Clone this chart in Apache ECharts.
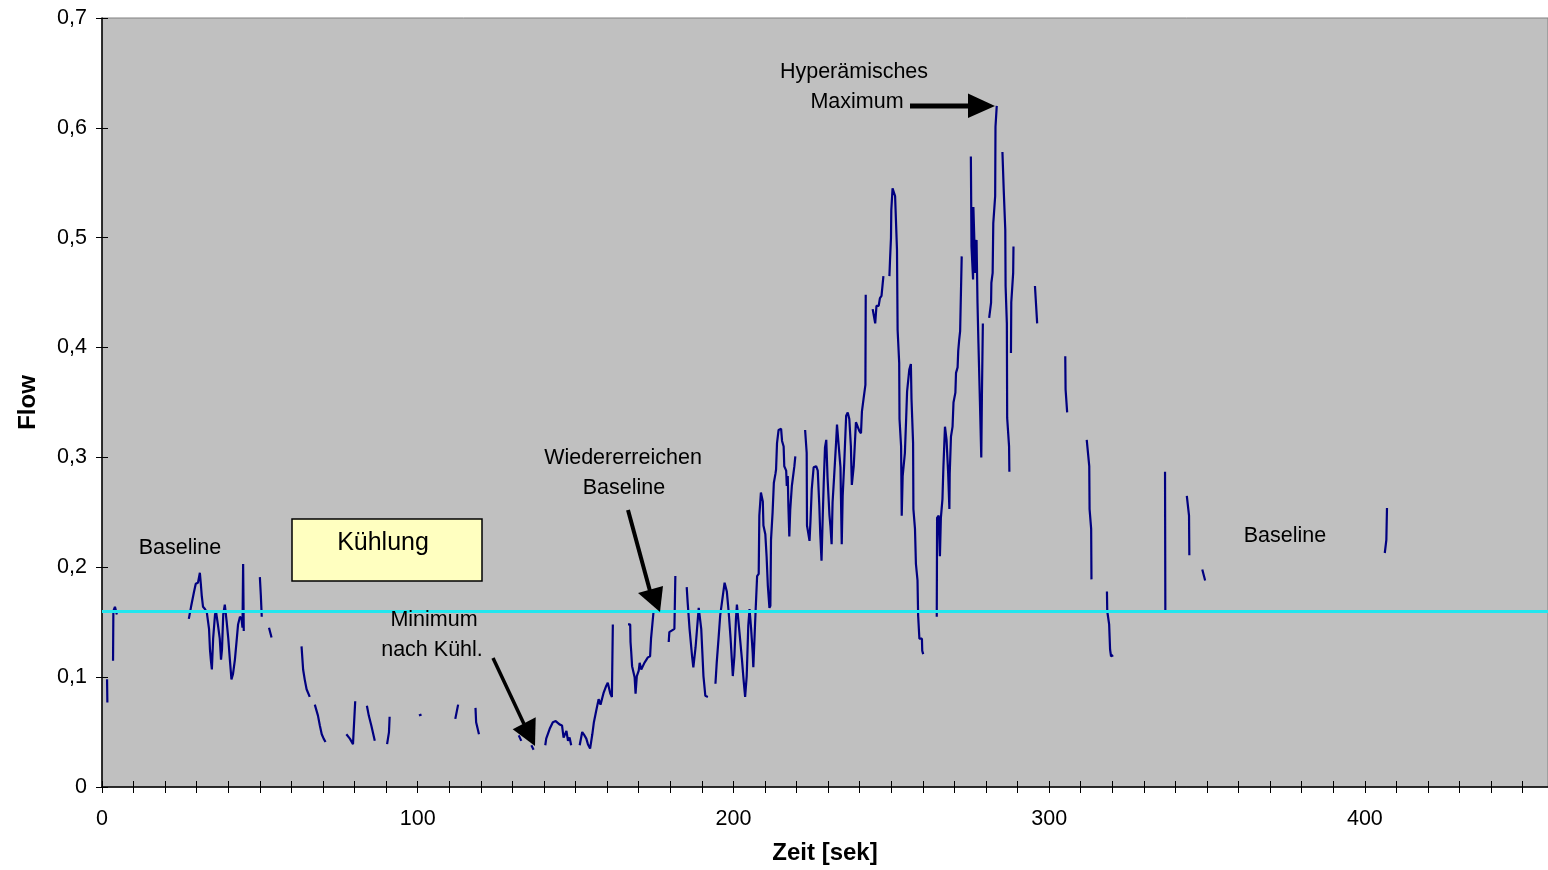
<!DOCTYPE html>
<html><head><meta charset="utf-8">
<script src="https://cdn.jsdelivr.net/npm/echarts@6/dist/echarts.min.js"></script>
<style>html,body{margin:0;padding:0;background:#fff}#c{width:1548px;height:870px}</style>
</head><body><div id="c"></div>
<script>
// Zeit [sek] and Flow readings; null marks a gap in the recording
const timeSec = [
 1.6,1.7,null,
 3.5,3.6,4.1,4.7,null,
 27.5,28.2,29.1,29.7,30.4,31.0,31.3,31.6,32.0,32.6,33.2,33.9,34.2,34.5,34.8,35.2,35.8,36.1,36.7,37.3,37.7,38.0,38.4,38.9,39.5,40.0,40.5,41.0,41.5,42.1,42.7,43.1,43.7,44.2,44.5,44.7,44.9,null,
 50.0,50.3,50.6,null,
 52.9,53.7,null,
 63.2,63.7,64.2,64.8,65.8,null,
 67.4,68.4,69.0,69.6,70.2,70.8,null,
 77.4,78.5,79.5,80.2,null,
 83.9,84.5,85.3,86.4,null,
 90.3,90.9,91.1,null,
 100.4,101.2,null,
 111.9,112.8,null,
 118.3,118.5,119.4,null,
 132.0,132.8,null,
 136.0,136.7,null,
 140.4,140.7,141.8,142.8,143.7,144.9,145.7,146.2,147.1,147.6,148.1,148.6,null,
 151.3,152.1,152.6,153.4,153.9,154.6,155.3,155.8,156.5,157.3,157.9,158.9,159.7,160.2,161.0,161.5,161.8,null,
 166.6,167.3,167.4,167.6,167.9,168.7,169.0,169.4,170.0,170.3,170.8,171.8,172.9,173.6,173.9,174.5,174.7,null,
 179.5,179.7,180.3,181.3,181.6,null,
 185.2,185.5,186.1,186.9,187.3,188.0,189.0,189.8,190.5,191.1,191.9,null,
 194.3,194.7,195.3,195.8,196.4,197.2,197.9,198.5,199.1,199.8,200.3,200.8,201.1,201.9,202.7,203.2,203.7,204.2,204.7,205.1,205.6,206.1,206.3,207.0,207.5,208.0,208.2,208.7,209.3,209.5,210.1,210.5,210.9,211.4,211.7,211.9,212.4,212.8,213.3,213.5,213.8,214.3,215.1,215.4,215.9,216.1,216.7,216.9,217.2,217.4,217.7,218.0,218.5,219.0,219.3,219.6,null,
 222.7,223.2,223.3,224.1,224.4,224.8,225.4,226.2,226.7,227.2,227.5,227.9,228.3,228.6,229.0,229.4,229.8,230.4,230.7,231.1,231.4,231.9,232.5,232.8,233.3,233.9,234.3,234.6,235.1,235.7,236.2,236.7,237.2,237.5,238.1,238.8,239.9,240.4,240.7,241.2,241.8,241.9,null,
 244.1,244.9,245.3,246.0,246.4,246.9,247.5,null,
 249.4,249.6,249.9,250.0,250.4,251.2,251.8,252.0,252.5,252.6,253.1,253.3,253.6,254.3,254.7,255.0,255.7,256.2,256.4,256.9,257.0,257.5,257.8,258.3,258.5,258.9,259.7,259.8,260.1,null,
 264.4,264.5,265.0,265.4,265.7,266.2,266.5,267.0,267.5,268.0,268.4,268.5,268.9,269.4,269.7,270.3,270.5,271.0,271.2,271.5,271.8,272.2,272.3,null,
 275.2,275.4,275.9,276.0,276.6,277.0,277.3,277.6,278.1,278.5,278.7,279.0,null,
 281.0,281.6,281.7,282.1,282.3,282.9,283.0,283.4,null,
 285.2,285.6,286.1,286.2,286.6,286.7,287.3,287.4,null,
 287.9,288.0,288.6,288.7,null,
 295.5,296.2,null,
 305.1,305.2,305.7,null,
 311.9,312.7,312.8,313.3,313.4,null,
 318.3,318.4,319.0,319.3,319.6,320.3,null,
 336.7,336.8,null,
 343.6,344.3,344.4,null,
 348.5,349.4,null,
 406.3,406.8,407.0
];
const flow = [
 0.098,0.077,null,
 0.115,0.160,0.164,0.157,null,
 0.153,0.164,0.177,0.185,0.186,0.195,0.185,0.174,0.164,0.162,0.159,0.144,0.125,0.115,0.107,0.135,0.157,0.160,0.148,0.135,0.116,0.125,0.157,0.166,0.150,0.135,0.116,0.098,0.103,0.116,0.135,0.148,0.155,0.153,0.145,0.203,0.142,null,
 0.191,0.175,0.155,null,
 0.145,0.136,null,
 0.128,0.107,0.098,0.089,0.082,null,
 0.075,0.065,0.056,0.048,0.044,0.041,null,
 0.048,0.044,0.039,0.078,null,
 0.074,0.065,0.056,0.042,null,
 0.039,0.050,0.064,null,
 0.065,0.066,null,
 0.062,0.075,null,
 0.072,0.059,0.048,null,
 0.047,0.042,null,
 0.038,0.034,null,
 0.038,0.044,0.053,0.059,0.060,0.057,0.056,0.045,0.051,0.042,0.045,0.038,null,
 0.038,0.050,0.048,0.044,0.039,0.035,0.048,0.059,0.069,0.080,0.075,0.086,0.092,0.095,0.085,0.082,0.148,null,
 0.148,0.148,0.132,0.124,0.110,0.100,0.085,0.101,0.106,0.113,0.107,0.113,0.118,0.119,0.135,0.136,0.160,null,
 0.132,0.141,0.142,0.144,0.192,null,
 0.182,0.168,0.144,0.119,0.109,0.127,0.163,0.144,0.101,0.083,0.082,null,
 0.094,0.113,0.136,0.156,0.169,0.186,0.178,0.159,0.135,0.101,0.119,0.153,0.166,0.141,0.116,0.098,0.082,0.101,0.147,0.162,0.144,0.122,0.109,0.159,0.192,0.194,0.247,0.268,0.260,0.238,0.230,0.210,0.183,0.163,0.165,0.225,0.250,0.277,0.285,0.289,0.313,0.325,0.326,0.315,0.310,0.292,0.288,0.274,0.283,0.256,0.228,0.253,0.274,0.274,0.292,0.301,null,
 0.325,0.304,0.238,0.224,0.242,0.271,0.291,0.292,0.288,0.256,0.230,0.206,0.248,0.277,0.309,0.316,0.282,0.248,0.238,0.221,0.259,0.283,0.313,0.330,0.312,0.291,0.221,0.265,0.295,0.338,0.341,0.335,0.310,0.275,0.292,0.332,0.324,0.322,0.342,0.353,0.366,0.448,null,
 0.435,0.422,0.438,0.438,0.445,0.447,0.465,null,
 0.465,0.480,0.500,0.525,0.545,0.538,0.489,0.416,0.386,0.335,0.310,0.247,0.283,0.304,0.335,0.360,0.380,0.385,0.353,0.313,0.253,0.235,0.203,0.188,0.156,0.135,0.135,0.124,0.121,null,
 0.155,0.245,0.247,0.210,0.245,0.262,0.291,0.328,0.316,0.286,0.253,0.285,0.319,0.328,0.350,0.359,0.377,0.382,0.397,0.407,0.415,0.416,0.483,null,
 0.574,0.492,0.462,0.528,0.468,0.498,0.441,0.404,0.347,0.300,0.356,0.422,null,
 0.427,0.441,0.459,0.468,0.513,0.538,0.601,0.620,null,
 0.578,0.544,0.507,0.456,0.422,0.336,0.310,0.287,null,
 0.395,0.441,0.468,0.492,null,
 0.456,0.422,null,
 0.392,0.362,0.341,null,
 0.316,0.292,0.253,0.235,0.189,null,
 0.178,0.160,0.148,0.125,0.119,0.120,null,
 0.287,0.159,null,
 0.265,0.247,0.211,null,
 0.198,0.188,null,
 0.213,0.225,0.254
];
const baselineFlow = 0.16;
const xRange = [0, 458];
const yRange = [0, 0.7];
const xTickStep = 10, xLabelStep = 100, yTickStep = 0.1;

const FONT = '"Liberation Sans", Arial, sans-serif';
const chart = echarts.init(document.getElementById('c'), null, {renderer: 'canvas'});
const lineData = timeSec.map((t, i) => (t === null || flow[i] === null) ? [NaN, NaN] : [t, flow[i]]);

const fmtY = v => v === 0 ? '0' : v.toFixed(1).replace('.', ',');
const baseX = {type: 'value', min: xRange[0], max: xRange[1], interval: xTickStep, position: 'bottom', splitLine: {show: false}};
const baseY = {type: 'value', min: yRange[0], max: yRange[1], interval: yTickStep, position: 'left', splitLine: {show: false}};

function txt(x, y, text, size, extra) {
  return Object.assign({type: 'text', x: x, y: y, z: 50, style: {text: text, fill: '#000', font: size + 'px ' + FONT,
    textAlign: 'center', textVerticalAlign: 'middle', align: 'center', verticalAlign: 'middle'}}, extra || {});
}
function arrow(x1, y1, x2, y2, head, w) {
  return [
    {type: 'line', z: 50, shape: {x1: x1, y1: y1, x2: x2, y2: y2}, style: {stroke: '#000', lineWidth: w}},
    {type: 'polygon', z: 50, shape: {points: head}, style: {fill: '#000'}}
  ];
}

chart.setOption({
  animation: false,
  backgroundColor: '#fff',
  grid: {left: 102, right: 0, top: 18, bottom: 82, show: true, backgroundColor: '#C0C0C0', borderColor: '#808080', borderWidth: 1, containLabel: false},
  xAxis: [
    Object.assign({}, baseX, {
      axisLine: {show: true, lineStyle: {color: '#000', width: 1.5}},
      axisTick: {show: true, inside: false, length: 6, lineStyle: {color: '#000', width: 1}},
      axisLabel: {formatter: v => (Math.round(v) % xLabelStep === 0 ? String(Math.round(v)) : ''), color: '#000', fontSize: 21.5, fontFamily: FONT, margin: 21, showMaxLabel: false},
      name: 'Zeit [sek]', nameLocation: 'middle', nameGap: 54,
      nameTextStyle: {color: '#000', fontSize: 24, fontWeight: 'bold', fontFamily: FONT}
    }),
    Object.assign({}, baseX, {
      axisLine: {show: false}, axisLabel: {show: false},
      axisTick: {show: true, inside: true, length: 6, lineStyle: {color: '#000', width: 1}}
    })
  ],
  yAxis: [
    Object.assign({}, baseY, {
      axisLine: {show: true, lineStyle: {color: '#000', width: 1.5}},
      axisTick: {show: true, inside: false, length: 6, lineStyle: {color: '#000', width: 1}},
      axisLabel: {formatter: fmtY, color: '#000', fontSize: 21.5, fontFamily: FONT, margin: 15},
      name: 'Flow', nameLocation: 'middle', nameGap: 62, nameRotate: 90,
      nameTextStyle: {color: '#000', fontSize: 24, fontWeight: 'bold', fontFamily: FONT}
    }),
    Object.assign({}, baseY, {
      axisLine: {show: false}, axisLabel: {show: false},
      axisTick: {show: true, inside: true, length: 6, lineStyle: {color: '#000', width: 1}}
    })
  ],
  series: [{
    type: 'line', xAxisIndex: 0, yAxisIndex: 0, data: lineData,
    showSymbol: false, symbol: 'none', connectNulls: false,
    lineStyle: {color: '#000080', width: 2.2}, z: 3,
    markLine: {
      silent: true, symbol: ['none', 'none'], label: {show: false},
      lineStyle: {color: '#22E6EE', width: 3, type: 'solid'},
      data: [{yAxis: baselineFlow}]
    }
  }],
  graphic: [].concat(
    [txt(180, 548, 'Baseline', 21.5)],
    [{type: 'rect', z: 49, shape: {x: 292, y: 519, width: 190, height: 62}, style: {fill: '#FFFFC0', stroke: '#000', lineWidth: 1.5}}],
    [txt(383, 543, 'Kühlung', 25)],
    [txt(434, 620, 'Minimum', 21.5), txt(432, 650, 'nach Kühl.', 21.5)],
    [txt(623, 458, 'Wiedererreichen', 21.5), txt(624, 488, 'Baseline', 21.5)],
    [txt(854, 72, 'Hyperämisches', 21.5), txt(857, 102, 'Maximum', 21.5)],
    [txt(1285, 536, 'Baseline', 21.5)],
    arrow(493, 658, 524, 724, [[512.7, 729.3], [535.7, 717.3], [535, 746]], 3.5),
    arrow(628, 510, 650, 591, [[638, 593], [663, 586], [660, 612]], 4),
    arrow(910, 106, 970, 106, [[968, 93.5], [968, 118], [995, 106]], 5)
  )
});
</script></body></html>
